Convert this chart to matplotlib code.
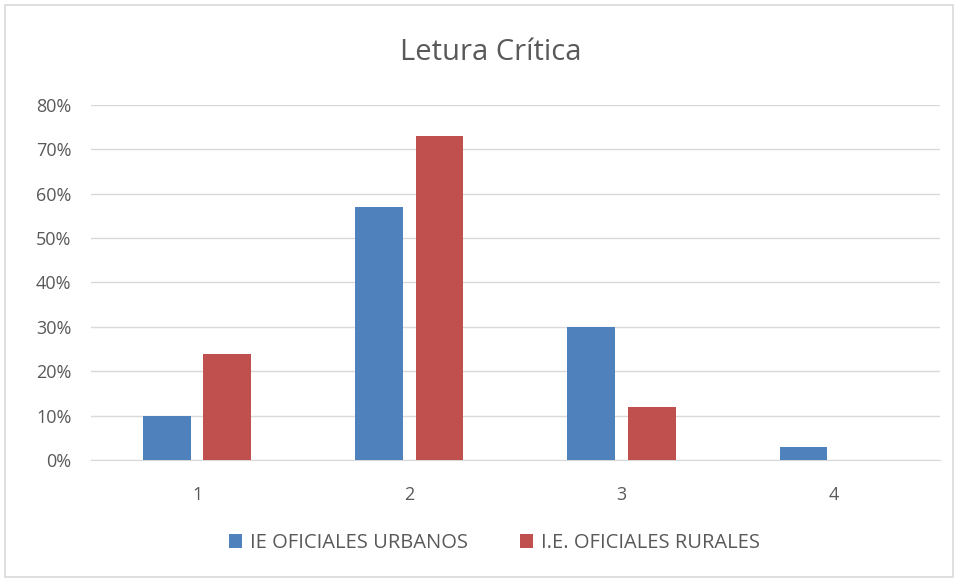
import matplotlib.pyplot as plt
import numpy as np
from matplotlib.ticker import PercentFormatter
from matplotlib.patches import Rectangle

categories = ['1', '2', '3', '4']
urbanos = [10, 57, 30, 3]
rurales = [24, 73, 12, 0]
series_names = ['IE OFICIALES URBANOS', 'I.E. OFICIALES RURALES']
yticks = [0, 10, 20, 30, 40, 50, 60, 70, 80]

plt.rcParams['font.family'] = ['Open Sans', 'DejaVu Sans']
gray = '#595959'

fig = plt.figure(figsize=(9.58, 5.79), dpi=100)
ax = fig.add_axes([0.095, 0.2055, 0.886, 0.6132])

x = np.arange(len(categories))
w = 0.225
off = 0.1425
ax.bar(x - off, urbanos, w, color='#4F81BD', label=series_names[0], zorder=3)
ax.bar(x + off, rurales, w, color='#C0504D', label=series_names[1], zorder=3)

ax.set_xlim(-0.5, len(categories) - 0.5)
ax.set_ylim(0, 80)
ax.set_yticks(yticks)
ax.yaxis.set_major_formatter(PercentFormatter(decimals=0))
ax.set_xticks(x)
ax.set_xticklabels(categories)
ax.grid(axis='y', color='#D9D9D9', linewidth=1, zorder=0)
for s in ['top', 'right', 'left']:
    ax.spines[s].set_visible(False)
ax.spines['bottom'].set_color('#D9D9D9')
ax.tick_params(axis='both', length=0, labelsize=13, colors=gray)
ax.tick_params(axis='x', pad=19)
ax.tick_params(axis='y', pad=14)

fig.text(0.512, 0.91, 'Letura Crítica', ha='center', va='center', fontsize=21, color=gray)

fig.legend(loc='center', bbox_to_anchor=(0.516, 0.062), ncol=2, frameon=False,
           fontsize=14.5, labelcolor=gray, handlelength=0.65, handleheight=0.65,
           handletextpad=0.4, columnspacing=2.6)

fig.patches.append(Rectangle((0.005, 0.003), 0.99, 0.988, transform=fig.transFigure,
                             fill=False, edgecolor='#D9D9D9', linewidth=1.2))

fig.savefig('out.png', dpi=100, facecolor='white')
